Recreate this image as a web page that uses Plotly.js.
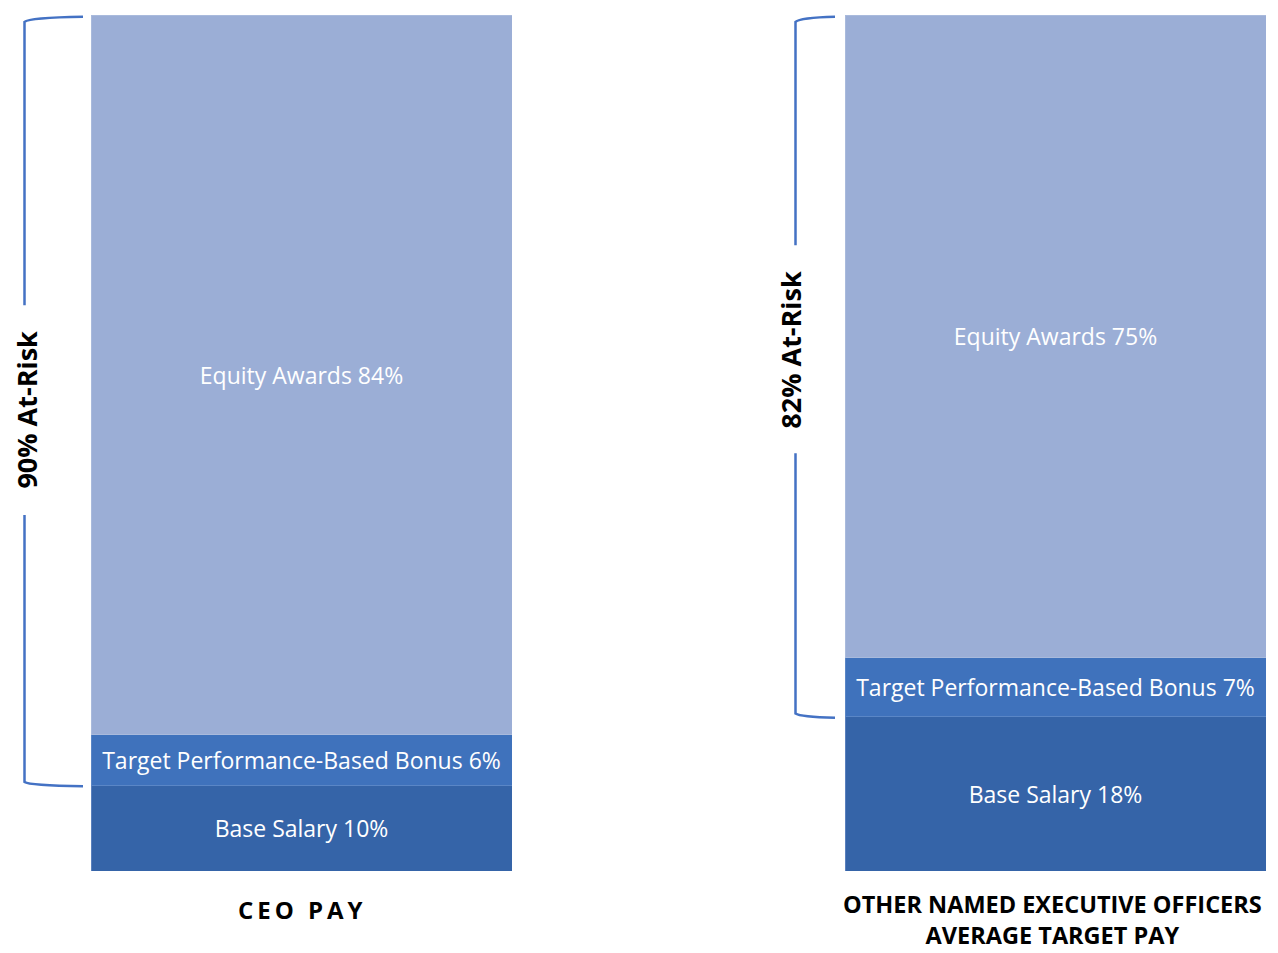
<!DOCTYPE html>
<html><head><meta charset="utf-8">
<script src="https://cdn.plot.ly/plotly-3.0.1.min.js"></script>
<style>html,body{margin:0;padding:0;background:#fff;}#chart{width:1278px;height:953px;}</style>
</head><body><div id="chart"></div>
<script>
// ---- data ----
const categories = ["CEO PAY", "OTHER NAMED EXECUTIVE OFFICERS<br>AVERAGE TARGET PAY"];
const componentNames = ["Base Salary", "Target Performance-Based Bonus", "Equity Awards"];
const ceoValues = [10, 6, 84];
const neoValues = [18, 7, 75];
const atRiskLabels = ["90% At-Risk", "82% At-Risk"];
const atRiskValues = [90, 82];

// ---- style ----
const colors = ["#3564A8", "#3F72BC", "#9BAED6"];
const lineColors = ["#5A80BD", "#5A86C6", "#A9BADC"];
const W = 1278, H = 953, L = 91, R = 12, T = 15, B = 82;
const PW = W - L - R, PH = H - T - B;
const px = x => (x - L) / PW;
const py = y => (H - B - y) / PH;

const traces = [];
const series = [ceoValues, neoValues];
series.forEach((vals, s) => {
  vals.forEach((v, i) => {
    traces.push({
      type: "bar",
      x: [categories[s]],
      y: [v],
      xaxis: s === 0 ? "x" : "x2",
      yaxis: "y",
      name: componentNames[i],
      marker: {color: colors[i], line: {color: lineColors[i], width: 1}},
      text: [componentNames[i] + " " + v + "%"],
      textposition: "inside",
      insidetextanchor: "middle",
      constraintext: "none",
      textfont: {family: "Open Sans, sans-serif", size: 23, color: "#ffffff"},
      hoverinfo: "none"
    });
  });
});

const lc = "#4472C4", lw = 2.5;
function bracket(xv, xend, yTop, yBot, gapTop, gapBot) {
  const xc = xv + 0.004;
  return [
    {type: "path", xref: "paper", yref: "y",
     path: `M ${xend},${yTop} Q ${xc},${yTop - 0.1} ${xv},${yTop - 0.6} L ${xv},${gapTop}`,
     line: {color: lc, width: lw}},
    {type: "path", xref: "paper", yref: "y",
     path: `M ${xv},${gapBot} L ${xv},${yBot + 0.4} Q ${xc},${yBot} ${xend},${yBot - 0.1}`,
     line: {color: lc, width: lw}}
  ];
}
const shapes = [
  ...bracket(px(24.5), px(83), 99.8, 100 - atRiskValues[0], 66.1, 41.6),
  ...bracket(px(795.5), px(835), 99.8, 100 - atRiskValues[1], 73.1, 48.8)
];

const annotations = [
  {xref: "paper", yref: "y", x: px(27), y: 53.9, xanchor: "center", yanchor: "middle",
   text: "<b>" + atRiskLabels[0] + "</b>",
   textangle: -90, showarrow: false, font: {family: "Open Sans, sans-serif", size: 27, color: "#000"}},
  {xref: "paper", yref: "y", x: px(791), y: 60.9, xanchor: "center", yanchor: "middle",
   text: "<b>" + atRiskLabels[1] + "</b>",
   textangle: -90, showarrow: false, font: {family: "Open Sans, sans-serif", size: 27, color: "#000"}},
  {xref: "paper", yref: "paper", x: px(300), y: py(909), xanchor: "center", yanchor: "middle",
   text: "<b>" + categories[0].split("").join("\u2009") + "</b>",
   showarrow: false, font: {family: "Open Sans, sans-serif", size: 24, color: "#000"}},
  {xref: "paper", yref: "paper", x: px(1052), y: py(919), xanchor: "center", yanchor: "middle",
   text: "<b>" + categories[1] + "</b>",
   showarrow: false, font: {family: "Open Sans, sans-serif", size: 23.5, color: "#000"}}
];

const layout = {
  width: W, height: H,
  margin: {l: L, r: R, t: T, b: B, pad: 0},
  paper_bgcolor: "#fff", plot_bgcolor: "#fff",
  barmode: "stack", bargap: 0, showlegend: false, hovermode: false,
  xaxis: {domain: [0, px(512)], visible: false, anchor: "y"},
  xaxis2: {domain: [px(845), 1], visible: false, anchor: "y"},
  yaxis: {range: [0, 100], visible: false},
  shapes: shapes,
  annotations: annotations
};
Plotly.newPlot("chart", traces, layout, {displayModeBar: false, staticPlot: true});
</script></body></html>
